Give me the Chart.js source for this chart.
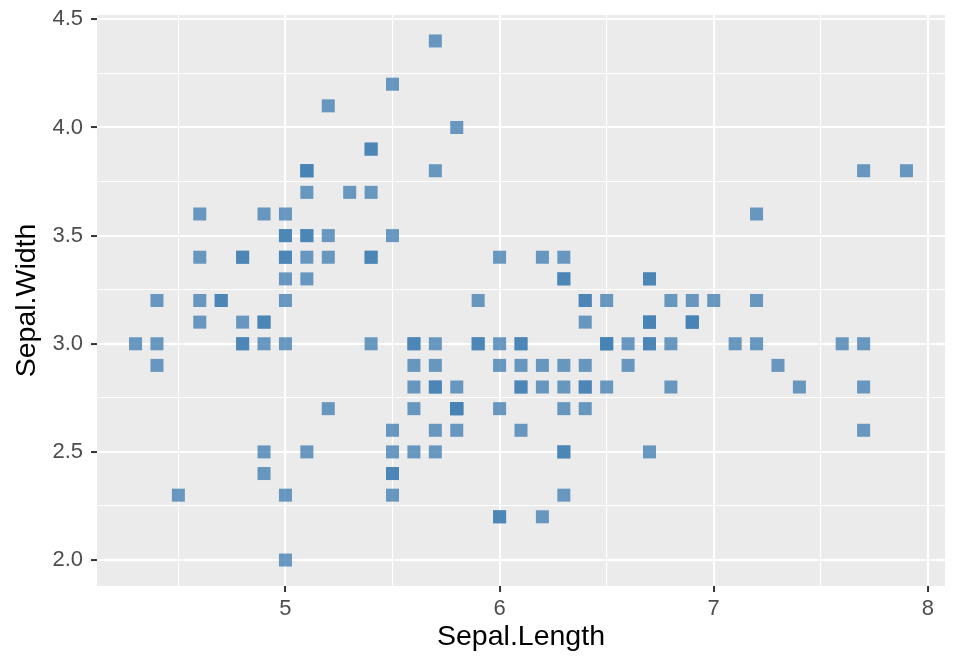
<!DOCTYPE html>
<html>
<head>
<meta charset="utf-8">
<script src="https://cdn.jsdelivr.net/npm/chart.js@4/dist/chart.umd.min.js"></script>
<style>
  html, body { margin: 0; padding: 0; background: #ffffff; }
  #wrap { width: 960px; height: 672px; }
</style>
</head>
<body>
<div id="wrap"><canvas id="c" width="960" height="672"></canvas></div>
<script>
const sepalLength = [
  5.1,4.9,4.7,4.6,5.0,5.4,4.6,5.0,4.4,4.9,5.4,4.8,4.8,4.3,5.8,5.7,5.4,5.1,5.7,5.1,
  5.4,5.1,4.6,5.1,4.8,5.0,5.0,5.2,5.2,4.7,4.8,5.4,5.2,5.5,4.9,5.0,5.5,4.9,4.4,5.1,
  5.0,4.5,4.4,5.0,5.1,4.8,5.1,4.6,5.3,5.0,
  7.0,6.4,6.9,5.5,6.5,5.7,6.3,4.9,6.6,5.2,5.0,5.9,6.0,6.1,5.6,6.7,5.6,5.8,6.2,5.6,
  5.9,6.1,6.3,6.1,6.4,6.6,6.8,6.7,6.0,5.7,5.5,5.5,5.8,6.0,5.4,6.0,6.7,6.3,5.6,5.5,
  5.5,6.1,5.8,5.0,5.6,5.7,5.7,6.2,5.1,5.7,
  6.3,5.8,7.1,6.3,6.5,7.6,4.9,7.3,6.7,7.2,6.5,6.4,6.8,5.7,5.8,6.4,6.5,7.7,7.7,6.0,
  6.9,5.6,7.7,6.3,6.7,7.2,6.2,6.1,6.4,7.2,7.4,7.9,6.4,6.3,6.1,7.7,6.3,6.4,6.0,6.9,
  6.7,6.9,5.8,6.8,6.7,6.7,6.3,6.5,6.2,5.9
];
const sepalWidth = [
  3.5,3.0,3.2,3.1,3.6,3.9,3.4,3.4,2.9,3.1,3.7,3.4,3.0,3.0,4.0,4.4,3.9,3.5,3.8,3.8,
  3.4,3.7,3.6,3.3,3.4,3.0,3.4,3.5,3.4,3.2,3.1,3.4,4.1,4.2,3.1,3.2,3.5,3.6,3.0,3.4,
  3.5,2.3,3.2,3.5,3.8,3.0,3.8,3.2,3.7,3.3,
  3.2,3.2,3.1,2.3,2.8,2.8,3.3,2.4,2.9,2.7,2.0,3.0,2.2,2.9,2.9,3.1,3.0,2.7,2.2,2.5,
  3.2,2.8,2.5,2.8,2.9,3.0,2.8,3.0,2.9,2.6,2.4,2.4,2.7,2.7,3.0,3.4,3.1,2.3,3.0,2.5,
  2.6,3.0,2.6,2.3,2.7,3.0,2.9,2.9,2.5,2.8,
  3.3,2.7,3.0,2.9,3.0,3.0,2.5,2.9,2.5,3.6,3.2,2.7,3.0,2.5,2.8,3.2,3.0,3.8,2.6,2.2,
  3.2,2.8,2.8,2.7,3.3,3.2,2.8,3.0,2.8,3.0,2.8,3.8,2.8,2.8,2.6,3.0,3.4,3.1,3.0,3.1,
  3.1,3.1,2.7,3.2,3.3,3.0,2.5,3.0,3.4,3.0
];
const xMajorTicks = [5, 6, 7, 8];
const xMinorTicks = [4.5, 5.5, 6.5, 7.5];
const xTickLabels = ['5', '6', '7', '8'];
const yMajorTicks = [2.0, 2.5, 3.0, 3.5, 4.0, 4.5];
const yMinorTicks = [2.25, 2.75, 3.25, 3.75, 4.25];
const yTickLabels = ['2.0', '2.5', '3.0', '3.5', '4.0', '4.5'];
const xTitle = 'Sepal.Length';
const yTitle = 'Sepal.Width';

const points = sepalLength.map((x, i) => ({ x: x, y: sepalWidth[i] }));

function makeTicks(major, minor) {
  return major.map(v => ({ value: v, major: true }))
    .concat(minor.map(v => ({ value: v, major: false })))
    .sort((a, b) => a.value - b.value);
}
function isMajor(ctx) { return ctx.tick && ctx.tick.major; }

const panelBg = {
  id: 'panelBg',
  beforeDraw(chart) {
    const { ctx, chartArea: a } = chart;
    ctx.save();
    ctx.fillStyle = '#EBEBEB';
    ctx.fillRect(a.left, a.top, a.right - a.left, a.bottom - a.top);
    ctx.restore();
  }
};

const fontFam = '"Liberation Sans", Arial, Helvetica, sans-serif';

new Chart(document.getElementById('c'), {
  type: 'scatter',
  data: {
    datasets: [{
      data: points,
      pointStyle: 'rect',
      pointRadius: 9.2,
      pointHoverRadius: 9.2,
      pointBorderWidth: 0,
      pointBackgroundColor: 'rgba(70,130,180,0.8)',
      pointBorderColor: 'rgba(0,0,0,0)'
    }]
  },
  options: {
    responsive: false,
    animation: false,
    devicePixelRatio: 1,
    layout: { autoPadding: false, padding: { top: 15, right: 15, left: 0, bottom: 0 } },
    plugins: { legend: { display: false }, tooltip: { enabled: false } },
    scales: {
      x: {
        type: 'linear',
        min: 4.12, max: 8.08,
        afterBuildTicks(scale) { scale.ticks = makeTicks(xMajorTicks, xMinorTicks); },
        afterFit(scale) { scale.height = 86; scale.paddingLeft = 0; scale.paddingRight = 0; },
        border: { display: false },
        grid: {
          color: '#FFFFFF',
          lineWidth: ctx => isMajor(ctx) ? 2.1 : 1.1,
          tickLength: 6,
          tickWidth: 2,
          tickColor: ctx => isMajor(ctx) ? '#333333' : 'rgba(0,0,0,0)'
        },
        ticks: {
          autoSkip: false,
          maxRotation: 0,
          padding: 4,
          color: '#4D4D4D',
          font: { family: fontFam, size: 22 },
          callback: (v) => { const i = xMajorTicks.indexOf(v); return i >= 0 ? xTickLabels[i] : ''; }
        },
        title: {
          display: true, text: xTitle, color: '#000000',
          font: { family: fontFam, size: 28.5 },
          padding: { top: 0, bottom: 18 }
        }
      },
      y: {
        type: 'linear',
        min: 1.88, max: 4.52,
        afterBuildTicks(scale) { scale.ticks = makeTicks(yMajorTicks, yMinorTicks); },
        afterFit(scale) { scale.width = 97; scale.paddingTop = 0; scale.paddingBottom = 0; },
        border: { display: false },
        grid: {
          color: '#FFFFFF',
          lineWidth: ctx => isMajor(ctx) ? 2.1 : 1.1,
          tickLength: 6,
          tickWidth: 2,
          tickColor: ctx => isMajor(ctx) ? '#333333' : 'rgba(0,0,0,0)'
        },
        ticks: {
          autoSkip: false,
          padding: 8,
          color: '#4D4D4D',
          font: { family: fontFam, size: 22 },
          callback: (v) => { const i = yMajorTicks.indexOf(v); return i >= 0 ? yTickLabels[i] : ''; }
        },
        title: {
          display: true, text: yTitle, color: '#000000',
          font: { family: fontFam, size: 28.5 },
          padding: { top: 10, bottom: 0 }
        }
      }
    }
  },
  plugins: [panelBg]
});
</script>
</body>
</html>
